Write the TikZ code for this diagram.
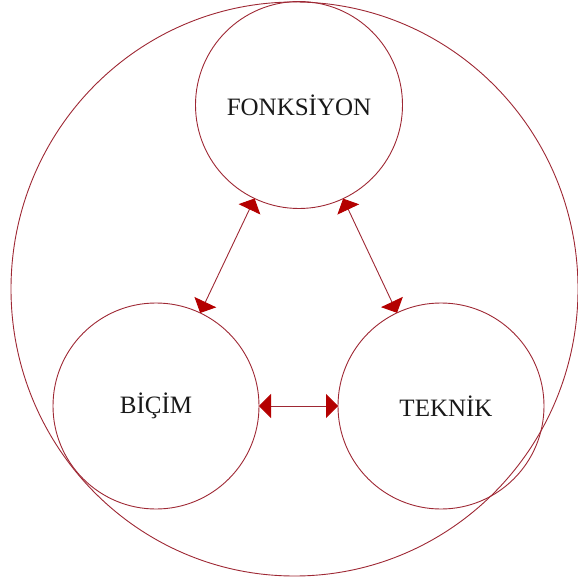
\documentclass[tikz,border=0pt]{standalone}
\usepackage{fontspec}
\setmainfont{Liberation Serif}
\usetikzlibrary{arrows.meta}
\definecolor{ringred}{RGB}{158,40,52}
\definecolor{tipred}{RGB}{180,0,0}
\tikzset{
  part/.style={circle, draw=ringred, line width=0.9pt, minimum size=206pt,
    inner sep=0pt, outer sep=0pt, text=black!90, font=\fontsize{25}{30}\selectfont},
  link/.style={draw=ringred, line width=0.9pt,
    {Triangle[length=12pt,width=24pt,color=tipred]}-{Triangle[length=12pt,width=24pt,color=tipred]}}
}

\begin{document}
\begin{tikzpicture}[x=1pt,y=-1pt]
\useasboundingbox (0,0) rectangle (578,577);
% outer ring
\draw[ringred, line width=0.9pt] (294.5,289) ellipse [x radius=283.5, y radius=287];
% the three parts
\node[part, minimum size=207pt] (fonksiyon) at (299,105) {FONKSİYON};
\node[part] (bicim) at (156,406) {BİÇİM};
\node[part] (teknik) at (441,406) {\hspace*{10pt}TEKNİK};
% links
\draw[link] (fonksiyon) -- (bicim);
\draw[link] (fonksiyon) -- (teknik);
\draw[link] (bicim) -- (teknik);
\end{tikzpicture}
\end{document}
